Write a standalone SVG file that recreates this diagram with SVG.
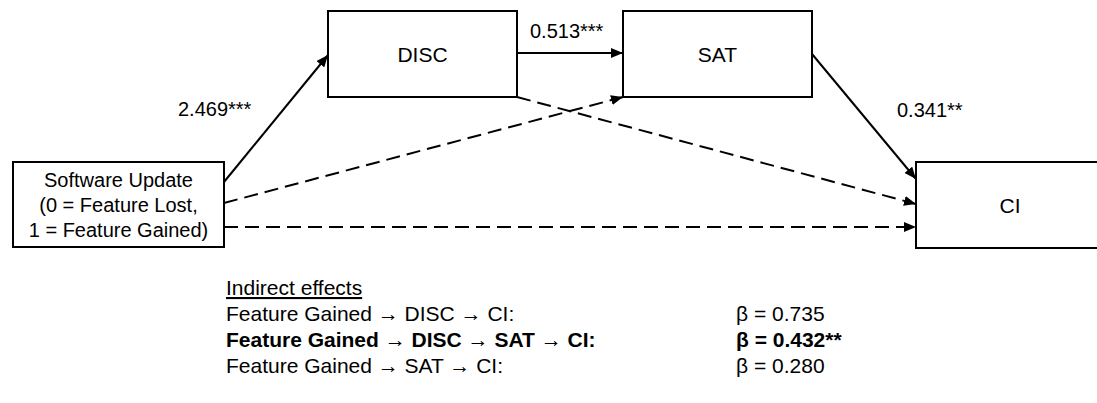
<svg xmlns="http://www.w3.org/2000/svg" width="1097" height="403" viewBox="0 0 1097 403">
  <style>
    .box { fill: #ffffff; stroke: #000000; stroke-width: 2; }
    .lbl { font-family: "Liberation Sans", Arial, sans-serif; font-size: 20px; fill: #000000; }
    .node { font-family: "Liberation Sans", Arial, sans-serif; font-size: 20px; fill: #000000; text-anchor: middle; }
    .big { font-size: 21px; }
    .solid { stroke: #000000; stroke-width: 2; fill: none; marker-end: url(#head); }
    .dash { stroke: #000000; stroke-width: 2; fill: none; stroke-dasharray: 14 7; marker-end: url(#head); }
    .fx { font-family: "Liberation Sans", Arial, sans-serif; font-size: 21px; fill: #000000; }
    .bold { font-weight: bold; }
  </style>
  <defs>
    <marker id="head" viewBox="0 0 12 10" refX="12" refY="5" markerWidth="12" markerHeight="10" markerUnits="userSpaceOnUse" orient="auto">
      <path d="M0,0 L12,5 L0,10 Z" fill="#000000"/>
    </marker>
  </defs>
  <rect width="1097" height="403" fill="#ffffff"/>

  <g id="connectors">
    <line class="solid" x1="224" y1="182" x2="328" y2="55"/>
    <line class="solid" x1="517" y1="53" x2="623" y2="53"/>
    <line class="solid" x1="812" y1="54" x2="916" y2="179"/>
    <line class="dash" x1="224" y1="203" x2="623" y2="97"/>
    <line class="dash" x1="517" y1="97" x2="916" y2="204"/>
    <line class="dash" x1="224" y1="227" x2="916" y2="227"/>
    <text class="lbl" x="178" y="116">2.469***</text>
    <text class="lbl" x="530" y="38">0.513***</text>
    <text class="lbl" x="897" y="117">0.341**</text>
  </g>

  <g id="node-software-update">
    <rect class="box" x="13" y="162" width="211" height="85"/>
    <text class="node" x="118.5" y="187">Software Update</text>
    <text class="node" x="118.5" y="212">(0 = Feature Lost,</text>
    <text class="node" x="118.5" y="237">1 = Feature Gained)</text>
  </g>
  <g id="node-disc">
    <rect class="box" x="328" y="11" width="189" height="86"/>
    <text class="node big" x="422.5" y="62">DISC</text>
  </g>
  <g id="node-sat">
    <rect class="box" x="623" y="11" width="189" height="86"/>
    <text class="node big" x="717.5" y="62">SAT</text>
  </g>
  <g id="node-ci">
    <rect class="box" x="916" y="162" width="189" height="86"/>
    <text class="node big" x="1010" y="213">CI</text>
  </g>

  <g id="indirect-effects">
    <text class="fx" x="226" y="295" text-decoration="underline">Indirect effects</text>
    <text class="fx" x="226" y="321">Feature Gained → DISC → CI:</text>
    <text class="fx" x="736" y="321">β = 0.735</text>
    <text class="fx bold" x="226" y="347">Feature Gained → DISC → SAT → CI:</text>
    <text class="fx bold" x="736" y="347">β = 0.432**</text>
    <text class="fx" x="226" y="373">Feature Gained → SAT → CI:</text>
    <text class="fx" x="736" y="373">β = 0.280</text>
  </g>
</svg>
